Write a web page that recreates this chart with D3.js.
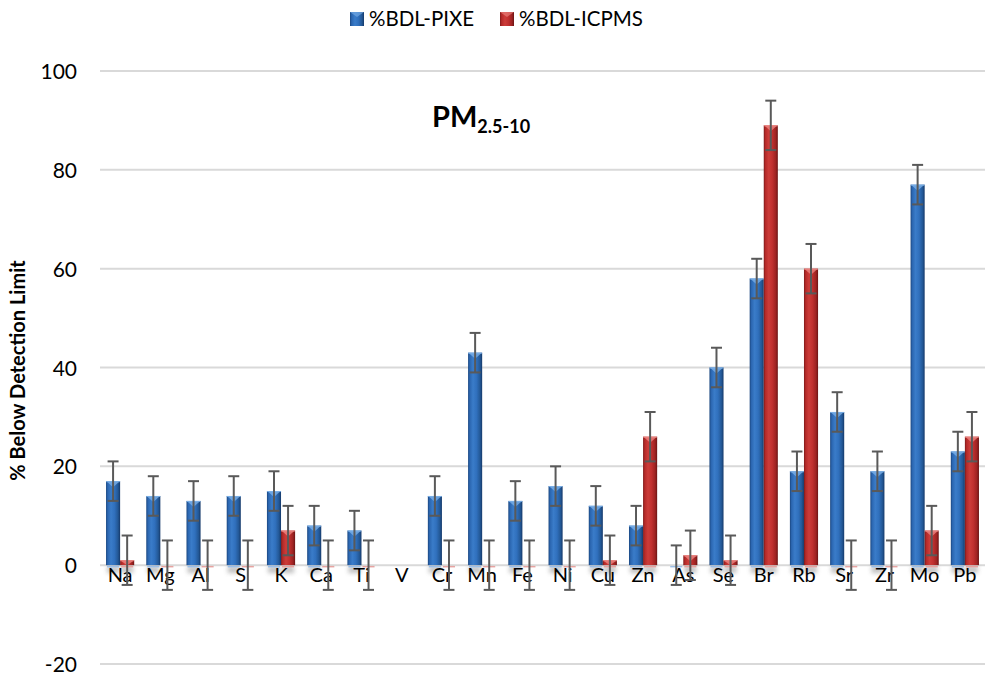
<!DOCTYPE html>
<html>
<head>
<meta charset="utf-8">
<script src="https://cdn.jsdelivr.net/npm/d3@7"></script>
<style>
  html, body { margin: 0; padding: 0; background: #ffffff; }
  svg { display: block; font-family: Lato, "Open Sans", sans-serif; }
</style>
</head>
<body>
<svg id="chart" width="985" height="677"></svg>
<script>
// Elements measured, and share of samples below detection limit (%)
const elements = ["Na","Mg","Al","S","K","Ca","Ti","V","Cr","Mn","Fe","Ni","Cu","Zn","As","Se","Br","Rb","Sr","Zr","Mo","Pb"];
const pixe     = [17, 14, 13, 14, 15, 8, 7, null, 14, 43, 13, 16, 12, 8, 0, 40, 58, 19, 31, 19, 77, 23];
const icpms    = [1, 0, 0, 0, 7, 0, 0, null, 0, 0, 0, 0, 1, 26, 2, 1, 89, 60, 0, 0, 7, 26];
const pixeErr  = [4, 4, 4, 4, 4, 4, 4, null, 4, 4, 4, 4, 4, 4, 4, 4, 4, 4, 4, 4, 4, 4];
const icpmsErr = [5, 5, 5, 5, 5, 5, 5, null, 5, 5, 5, 5, 5, 5, 5, 5, 5, 5, 5, 5, 5, 5];
const yTicks   = [-20, 0, 20, 40, 60, 80, 100];
const seriesNames = ["%BDL-PIXE", "%BDL-ICPMS"];

const svg = d3.select("#chart");

const x = d3.scaleBand().domain(elements).range([100, 985]).paddingInner(0.3).paddingOuter(0.15);
const sub = d3.scaleBand().domain([0, 1]).range([0, x.bandwidth()]).padding(0);
const y = d3.scaleLinear().domain([-20, 100]).range([664, 71]);

// Gradients for bevelled bars
const defs = svg.append("defs");
const palettes = [
  { id: "gBlue", stops: ["#1a467f", "#2b66b0", "#3a7cc9", "#3070bd", "#235896", "#15396a"], bevel: "#7fb3ea", base: "#9dbfe6" },
  { id: "gRed",  stops: ["#7c1a1a", "#b52a29", "#cc3c39", "#c0302f", "#9e2322", "#6a1414"], bevel: "#ef8a86", base: "#e6a3a1" }
];
palettes.forEach(p => {
  const g = defs.append("linearGradient").attr("id", p.id).attr("x1", "0%").attr("x2", "100%").attr("y1", "0%").attr("y2", "0%");
  const offs = [0, 0.12, 0.35, 0.6, 0.85, 1];
  p.stops.forEach((c, i) => g.append("stop").attr("offset", offs[i]).attr("stop-color", c));
});
defs.append("filter").attr("id", "soft").attr("x", "-50%").attr("y", "-50%").attr("width", "200%").attr("height", "200%")
  .append("feGaussianBlur").attr("stdDeviation", 2.2);

// Gridlines
svg.append("g").selectAll("line").data(yTicks).join("line")
  .attr("x1", 100).attr("x2", 985)
  .attr("y1", d => y(d)).attr("y2", d => y(d))
  .attr("stroke", "#d9d9d9").attr("stroke-width", 2);

// Y axis labels (plain hyphen for negatives)
const yAxis = d3.axisLeft(y).tickValues(yTicks).tickSize(0).tickPadding(0).tickFormat(d => String(d));
const yg = svg.append("g").attr("transform", "translate(77,0)").call(yAxis);
yg.select(".domain").remove();
yg.selectAll("text").attr("font-size", 21).attr("fill", "#000").attr("font-family", "Lato, sans-serif").attr("dy", "0.36em");

// Y axis title
svg.append("text")
  .attr("transform", `translate(25,${y(40) + 3}) rotate(-90)`)
  .attr("text-anchor", "middle")
  .attr("font-size", 20).attr("font-weight", 700).attr("fill", "#000")
  .text("% Below Detection Limit");

// Flattened bar records
const series = [
  { vals: pixe, errs: pixeErr, pal: palettes[0] },
  { vals: icpms, errs: icpmsErr, pal: palettes[1] }
];
const recs = [];
series.forEach((s, si) => elements.forEach((e, i) => {
  if (s.vals[i] == null) return;
  recs.push({ e, si, v: s.vals[i], err: s.errs[i], pal: s.pal });
}));
const bx = d => x(d.e) + sub(d.si);
const bw = sub.bandwidth();

// Shadows under the bars
svg.append("g").selectAll("rect").data(recs.filter(d => d.v > 0)).join("rect")
  .attr("x", d => bx(d) + 1).attr("width", bw - 2)
  .attr("y", y(0) + 1).attr("height", 7)
  .attr("fill", "#7a7a7a").attr("opacity", 0.45).attr("filter", "url(#soft)");

// Base edge of each bar
svg.append("g").selectAll("line").data(recs).join("line")
  .attr("x1", d => bx(d) + 1).attr("x2", d => bx(d) + bw - 1)
  .attr("y1", y(0) + 1.5).attr("y2", y(0) + 1.5)
  .attr("stroke", d => d.pal.base).attr("stroke-width", 1.5);

// Bars
const barG = svg.append("g");
barG.selectAll("rect").data(recs.filter(d => d.v > 0)).join("rect")
  .attr("x", d => bx(d)).attr("width", bw)
  .attr("y", d => y(d.v)).attr("height", d => y(0) - y(d.v))
  .attr("fill", d => `url(#${d.pal.id})`);

// Bevel highlight on bar tops
barG.selectAll("path").data(recs.filter(d => d.v > 0)).join("path")
  .attr("d", d => {
    const x0 = bx(d), x1 = x0 + bw, t = y(d.v);
    const h = Math.min(6, y(0) - t);
    return `M${x0},${t}L${x1},${t}L${x1 - 2},${t + 1.5}L${(x0 + x1) / 2},${t + h}L${x0 + 2},${t + 1.5}Z`;
  })
  .attr("fill", d => d.pal.bevel).attr("opacity", 0.75);
barG.selectAll("line").data(recs.filter(d => d.v > 0)).join("line")
  .attr("x1", d => bx(d)).attr("x2", d => bx(d) + bw)
  .attr("y1", d => y(d.v) + 0.5).attr("y2", d => y(d.v) + 0.5)
  .attr("stroke", d => d.pal.bevel).attr("stroke-width", 1).attr("opacity", 0.8);

// Category labels
svg.append("g").selectAll("text").data(elements).join("text")
  .attr("x", d => x(d) + x.bandwidth() / 2)
  .attr("y", 582)
  .attr("text-anchor", "middle")
  .attr("font-size", 20).attr("fill", "#000")
  .text(d => d);

// Error bars
const errG = svg.append("g").attr("stroke", "#595959").attr("stroke-width", 2).attr("fill", "none");
const cap = 5.5;
recs.forEach(d => {
  const cx = bx(d) + bw / 2;
  const yt = y(d.v + d.err), yb = y(d.v - d.err);
  errG.append("line").attr("x1", cx).attr("x2", cx).attr("y1", yt).attr("y2", yb);
  errG.append("line").attr("x1", cx - cap).attr("x2", cx + cap).attr("y1", yt).attr("y2", yt);
  errG.append("line").attr("x1", cx - cap).attr("x2", cx + cap).attr("y1", yb).attr("y2", yb);
});

// Panel title
const title = svg.append("text").attr("x", 432).attr("y", 127)
  .attr("font-size", 29).attr("font-weight", 700).attr("fill", "#000");
title.append("tspan").text("PM");
title.append("tspan").attr("font-size", 18).attr("dy", 6).text("2.5-10");

// Legend
const legX = [350, 500];
const leg = svg.append("g");
seriesNames.forEach((n, i) => {
  const g = leg.append("g").attr("transform", `translate(${legX[i]},0)`);
  g.append("rect").attr("x", 0).attr("y", 12).attr("width", 14).attr("height", 14)
    .attr("fill", `url(#${palettes[i].id})`);
  g.append("path").attr("d", "M0,12L14,12L7,17Z").attr("fill", palettes[i].bevel).attr("opacity", 0.6);
  g.append("text").attr("x", 19).attr("y", 26).attr("font-size", 20.5).attr("fill", "#000").text(n);
});
</script>
</body>
</html>
